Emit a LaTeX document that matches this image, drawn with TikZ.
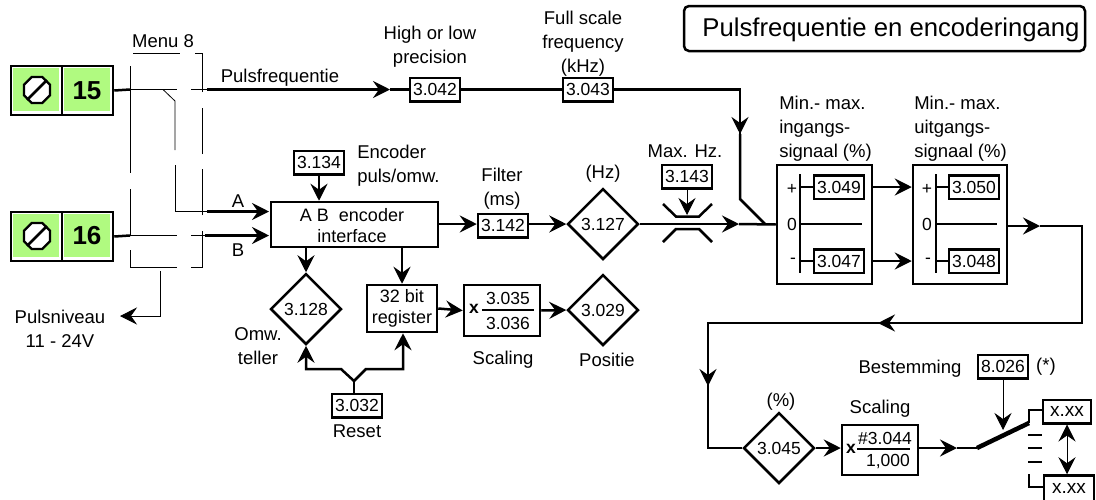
\documentclass[tikz,border=0pt]{standalone}
\usepackage{fontspec}
\setmainfont{Liberation Sans}
\usepackage{tikz}
\usetikzlibrary{arrows.meta,shapes.geometric}
\definecolor{termgreen}{RGB}{176,250,128}
\tikzset{
  every param/.style={
    rectangle,
    draw,
    fill=white,
    line width=2.5pt,
    inner sep=0pt,
    minimum width=50pt,
    minimum height=23.5pt,
    font=\fontsize{17.5}{22}\selectfont
  },
  every gate/.style={
    diamond,
    draw,
    aspect=1,
    line width=2.5pt,
    inner sep=0pt,
    minimum width=71pt,
    minimum height=71pt,
    font=\fontsize{17.5}{22}\selectfont
  },
  every block/.style={
    rectangle,
    draw,
    line width=2.5pt,
    inner sep=0pt,
    align=center,
    font=\fontsize{18}{21}\selectfont
  },
  every caption/.style={
    inner sep=0pt,
    align=center,
    font=\fontsize{18.5}{24}\selectfont
  },
  every cell/.style={
    rectangle,
    draw,
    fill=white,
    line width=2.5pt,
    minimum width=51pt,
    minimum height=49pt
  },
  every patch/.style={
    rectangle,
    fill=termgreen,
    inner sep=0pt,
    minimum width=46pt,
    minimum height=43pt
  },
  every screw/.style={
    regular polygon,
    regular polygon sides=8,
    draw,
    fill=white,
    line width=2.2pt,
    inner sep=0pt,
    minimum size=28pt
  },
  every thin/.style={line width=0.8pt}
}

\begin{document}
\begin{tikzpicture}[x=1pt, y=-1pt, line width=2.5pt, >={Stealth[length=17pt,width=17pt,inset=6pt]}]
  \useasboundingbox (0,0) rectangle (1096,499);

  % Terminals
  \node [every cell] (C15) at (36.5,90.5) {};
  \node [every cell] (N15) at (87.5,90.5) {};
  \node [every cell] (C16) at (36.5,236.5) {};
  \node [every cell] (N16) at (87.5,236.5) {};
  \node [every patch] (G15a) at (36,89) {};
  \node [every patch] (G15b) at (87,89) {};
  \node [every patch] (G16a) at (36,235) {};
  \node [every patch] (G16b) at (87,235) {};
  \node [every screw] (S15) at (37,90) {};
  \node [every screw] (S16) at (37,236) {};
  \draw (S15.south west) -- (S15.north east);
  \draw (S16.south west) -- (S16.north east);
  \node [font=\fontsize{26}{26}\selectfont\bfseries] (T15) at (87,91) {15};
  \node [font=\fontsize{26}{26}\selectfont\bfseries] (T16) at (87,236) {16};

  % Menu frame
  \draw [every thin] (130.5,66) -- (130.5,173);
  \draw [every thin] (130.5,189) -- (130.5,235);
  \draw [every thin] (130.5,250) -- (130.5,267) -- (177,267);
  \draw [every thin] (191,267) -- (202,267) -- (202,231);
  \draw [every thin] (202,215) -- (202,169);
  \draw [every thin] (202,154) -- (202,108);
  \draw [every thin] (202,92) -- (202,53) -- (195,53);
  \draw [every thin] (133,53) -- (180,53);

  % Parameters
  \node [every param] (P3042) at (435,89.5) {3.042};
  \node [every param] (P3043) at (588,89.5) {3.043};
  \node [every param] (P3134) at (319,162.5) {3.134};
  \node [every param] (P3142) at (503,225.5) {3.142};
  \node [every param] (P3143) at (687,176.5) {3.143};
  \node [every param] (P3049) at (839,187) {3.049};
  \node [every param] (P3047) at (839,261) {3.047};
  \node [every param] (P3050) at (974,187) {3.050};
  \node [every param] (P3048) at (974,261) {3.048};
  \node [every param] (P3032) at (357,405.5) {3.032};
  \node [every param] (P8026) at (1003,366.5) {8.026};
  \node [every param, minimum width=48pt, font=\fontsize{19}{22}\selectfont] (X1) at (1067,411.5) {x.xx};
  \node [every param, minimum height=36pt, font=\fontsize{19}{22}\selectfont] (X2) at (1069,493.5) {\raisebox{10pt}{x.xx}};

  % Gates
  \node [every gate] (D3127) at (603,224) {3.127};
  \node [every gate] (D3128) at (306,309) {3.128};
  \node [every gate] (D3029) at (603,310) {3.029};
  \node [every gate] (D3045) at (779,448) {3.045};

  % Blocks
  \node [every block, minimum width=167pt, minimum height=45pt] (ENC) at (354.5,224.5) {};
  \node [every caption, font=\fontsize{18}{21}\selectfont] (ENCT) at (352,226) {A B~~encoder\\interface};
  \node [every block, minimum width=70pt, minimum height=47pt] (REG) at (402,308.5) {32 bit\\register};
  \node [every block, minimum width=76pt, minimum height=51pt] (SC1) at (502,310.5) {};
  \node [every block, minimum width=76pt, minimum height=50pt] (SC2) at (880,450) {};
  \node [every block, minimum width=95pt, minimum height=119pt] (MINI) at (824.5,224.5) {};
  \node [every block, minimum width=94pt, minimum height=119pt] (MOUT) at (960,224.5) {};
  \node [every block, rounded corners=5pt, minimum width=401pt, minimum height=45pt] (TITLE) at (884.5,28.5) {};
  \node [every caption, font=\fontsize{25.7}{30}\selectfont] (TITLET) at (891,30) {Pulsfrequentie en encoderingang};

  % Scaling fractions
  \node [font=\fontsize{17.5}{20}\selectfont\bfseries, inner sep=0pt] (SC1X) at (474,309) {x};
  \node [font=\fontsize{17.5}{20}\selectfont, inner sep=0pt] (SC1A) at (508,298) {3.035};
  \node [font=\fontsize{17.5}{20}\selectfont, inner sep=0pt] (SC1B) at (508,323) {3.036};
  \draw (482,310) -- (534,310);
  \node [font=\fontsize{17.5}{20}\selectfont\bfseries, inner sep=0pt] (SC2X) at (851,449) {x};
  \node [font=\fontsize{17.5}{20}\selectfont, inner sep=0pt] (SC2A) at (885,438) {\#3.044};
  \node [font=\fontsize{17.5}{20}\selectfont, inner sep=0pt] (SC2B) at (888,462) {1,000};
  \draw (857,449) -- (910,449);

  % Min-max inner lines
  \draw (800,174) -- (800,273);
  \draw (800,187) -- (P3049.west);
  \draw (800,261) -- (P3047.west);
  \draw (800,224) -- (862,224);
  \draw (936,174) -- (936,273);
  \draw (936,187) -- (P3050.west);
  \draw (936,261) -- (P3048.west);
  \draw (936,224) -- (997,224);
  \node [every caption, font=\fontsize{17.5}{20}\selectfont] (PL1) at (792,189) {+};
  \node [every caption, font=\fontsize{17.5}{20}\selectfont] (ZE1) at (792,224) {0};
  \node [every caption, font=\fontsize{17.5}{20}\selectfont] (MI1) at (793,261) {-};
  \node [every caption, font=\fontsize{17.5}{20}\selectfont] (PL2) at (927,189) {+};
  \node [every caption, font=\fontsize{17.5}{20}\selectfont] (ZE2) at (927,224) {0};
  \node [every caption, font=\fontsize{17.5}{20}\selectfont] (MI2) at (928,261) {-};

  % Captions
  \node [every caption] (LMENU) at (163,41) {Menu 8};
  \node [every caption] (LPULS) at (280,78) {Pulsfrequentie};
  \node [every caption] (LHIGH) at (430,47) {High or low\\precision};
  \node [every caption] (LFULL) at (583,44) {Full scale\\frequency\\(kHz)};
  \node [every caption, align=left, anchor=west] (LENC) at (356,166) {Encoder\\puls/omw.};
  \node [every caption] (LFILT) at (502,189) {Filter\\(ms)};
  \node [every caption] (LHZ) at (603,174) {(Hz)};
  \node [every caption] (LMAX) at (685,151) {Max. Hz.};
  \node [every caption, align=left, anchor=west] (LMIN) at (778,128.5) {Min.- max.\\ingangs-\\signaal (\%)};
  \node [every caption, align=left, anchor=west] (LMOUT) at (913,128.5) {Min.- max.\\uitgangs-\\signaal (\%)};
  \node [every caption] (LA) at (238,201) {A};
  \node [every caption] (LB) at (238,250) {B};
  \node [every caption] (LNIV) at (60,329) {Pulsniveau\\11 - 24V};
  \node [every caption] (LOMW) at (258,346) {Omw.\\teller};
  \node [every caption] (LRES) at (357,431) {Reset};
  \node [every caption] (LSC1) at (503,360) {Scaling};
  \node [every caption] (LPOS) at (607,360) {Positie};
  \node [every caption] (LPCT) at (781,402) {(\%)};
  \node [every caption] (LSC2) at (880,409) {Scaling};
  \node [every caption] (LBEST) at (910,369) {Bestemming};
  \node [every caption] (LSTAR) at (1046,367) {(*)};

  % Points on the wires
  \coordinate (W15a) at (130,89.5);
  \coordinate (W15b) at (177,89.5);
  \coordinate (W15c) at (191,89.5);
  \coordinate (W15d) at (207,89.5);
  \coordinate (W15e) at (390,89.5);
  \coordinate (SWa) at (163,89.5);
  \coordinate (SWb) at (175,101);
  \coordinate (SWc) at (175,150);
  \coordinate (SWd) at (175,165);
  \coordinate (Aa) at (175,211.5);
  \coordinate (Ab) at (207,211.5);
  \coordinate (Ac) at (269,211.5);
  \coordinate (W16a) at (130,235.5);
  \coordinate (W16b) at (177,235.5);
  \coordinate (W16c) at (191,235.5);
  \coordinate (W16d) at (205,235.5);
  \coordinate (W16e) at (269,235.5);
  \coordinate (NIVa) at (160,271);
  \coordinate (NIVb) at (160,316);
  \coordinate (NIVc) at (120,316);
  \coordinate (TOPa) at (740,89.5);
  \coordinate (TOPb) at (740,134);
  \coordinate (TOPc) at (740,199);
  \coordinate (TOPd) at (765,224);
  \coordinate (MAINa) at (739,224);
  \coordinate (OUTa) at (1040,226);
  \coordinate (OUTb) at (1082,226);
  \coordinate (OUTc) at (1082,323);
  \coordinate (OUTd) at (878,323);
  \coordinate (OUTe) at (708,323);
  \coordinate (OUTf) at (708,386);
  \coordinate (OUTg) at (708,448);
  \coordinate (SW2a) at (957,448);
  \coordinate (SW2b) at (977,448);
  \coordinate (SW2c) at (1029,423);
  \coordinate (SW2d) at (1029,410);
  \coordinate (SW2e) at (1029,474);
  \coordinate (SW2f) at (1029,487);
  \coordinate (DEST) at (1003,430);
  \coordinate (RESa) at (354,381);
  \coordinate (RESb) at (341,369);
  \coordinate (RESc) at (306,369);
  \coordinate (RESd) at (366,369);
  \coordinate (RESe) at (403,369);

  % Arrows
  \draw (N15.east) -- (W15a);
  \draw [every thin] (W15a) -- (W15b);
  \draw [every thin] (W15c) -- (W15d);
  \draw [every thin] (SWa) -- (SWb) -- (SWc);
  \draw [every thin] (SWd) -- (Aa) -- (Ab);
  \draw [->] (Ab) -- (Ac);
  \draw (N16.east) -- (W16a);
  \draw [every thin] (W16a) -- (W16b);
  \draw [every thin] (W16c) -- (W16d);
  \draw [->] (W16d) -- (W16e);
  \draw [every thin, ->] (NIVa) -- (NIVb) -- (NIVc);
  \draw [->] (W15d) -- (W15e);
  \draw (W15e) -- (P3042.west);
  \draw (P3042.east) -- (P3043.west);
  \draw (P3043.east) -- (TOPa) -- (TOPb);
  \draw [->] (TOPa) -- (TOPb);
  \draw (TOPb) -- (TOPc) -- (TOPd);
  \draw [->] (P3134.south) -- (ENC.north -| P3134.south);
  \draw [->] (ENC.east |- D3127.west) -- (P3142.west |- D3127.west);
  \draw [->] (P3142.east |- D3127.west) -- (D3127.west);
  \draw [->] (D3127.east) -- (MAINa);
  \draw (MAINa) -- (MINI.west);
  \draw [every thin, ->] (P3143.south) -- (687,215);
  \draw (663,204) -- (676,216.5) -- (699,216.5) -- (712,204);
  \draw (663,242) -- (676,229) -- (699,229) -- (712,242);
  \draw [->] (MINI.east |- P3049.east) -- (MOUT.west |- P3049.east);
  \draw [->] (MINI.east |- P3047.east) -- (MOUT.west |- P3047.east);
  \draw [->] (MOUT.east |- OUTa) -- (OUTa);
  \draw (OUTa) -- (OUTb) -- (OUTc) -- (OUTd);
  \draw [->] (OUTc) -- (OUTd);
  \draw (OUTd) -- (OUTe) -- (OUTf);
  \draw [->] (OUTe) -- (OUTf);
  \draw (OUTf) -- (OUTg) -- (D3045.west);
  \draw [->] (D3045.east) -- (SC2.west |- D3045.east);
  \draw [->] (SC2.east |- SW2a) -- (SW2a);
  \draw (SW2a) -- (SW2b);
  \draw [line width=4.5pt] (SW2b) -- (SW2c);
  \draw (SW2c) -- (SW2d) -- (X1.west |- SW2d);
  \draw (SW2e) -- (SW2f) -- (X2.west |- SW2f);
  \draw (1028,435) -- (1042,435);
  \draw (1028,448) -- (1042,448);
  \draw (1028,462) -- (1042,462);
  \draw [every thin, ->] (P8026.south) -- (DEST);
  \draw [every thin, <->] (X1.south -| 1067,0) -- (X2.north -| 1067,0);
  \draw [->] (ENC.south -| D3128.north) -- (D3128.north);
  \draw [->] (ENC.south -| REG.north) -- (REG.north);
  \draw [->] (REG.east) -- (SC1.west);
  \draw [->] (SC1.east) -- (D3029.west);
  \draw (P3032.north -| RESa) -- (RESa);
  \draw [->] (RESa) -- (RESb) -- (RESc) -- (D3128.south);
  \draw [->] (RESa) -- (RESd) -- (RESe) -- (REG.south -| RESe);
\end{tikzpicture}
\end{document}
